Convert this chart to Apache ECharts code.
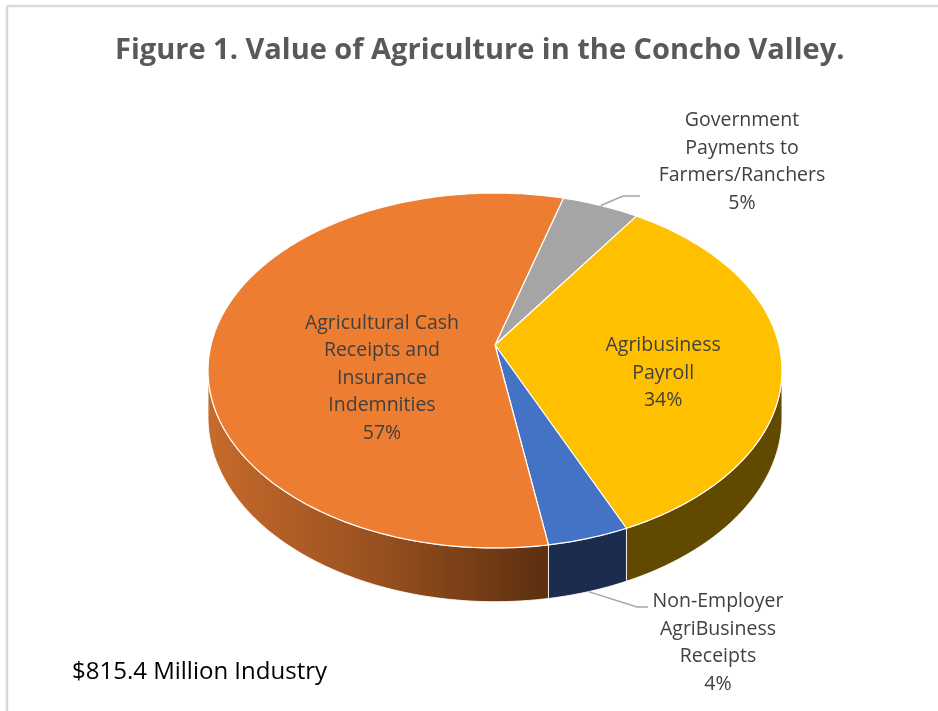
<!DOCTYPE html>
<html>
<head>
<meta charset="utf-8">
<script src="https://cdn.jsdelivr.net/npm/echarts@6/dist/echarts.min.js"></script>
<style>html,body{margin:0;padding:0;background:#fff}#c{width:938px;height:711px}</style>
</head>
<body>
<div id="c"></div>
<script>
// ---- data ----
const categories = ['Government\nPayments to\nFarmers/Ranchers', 'Agribusiness\nPayroll', 'Non-Employer\nAgriBusiness\nReceipts', 'Agricultural Cash\nReceipts and\nInsurance\nIndemnities'];
const shares = [5, 34, 4, 57];
const titleText = 'Figure 1. Value of Agriculture in the Concho Valley.';
const footText = '$815.4 Million Industry';

// ---- styles / geometry (not data) ----
const topColors = ['#A5A5A5', '#FFC000', '#4472C4', '#ED7D31'];
const sideColors = ['#5a5a5a', '#614a00', '#1c2c4e', null];
const START = 15.9;           // degrees clockwise from 12 o'clock
const CX = 495, CY = 345, A = 284, B = 173.8, C = 0.1437, H = 46;
const FONT = '"Open Sans", Lato, sans-serif';
const labelCfg = [
  {outside: true, text: [742, 162], line: [[1, 0], [623, 196], [640, 196]]},
  {outside: false, r: 0.59, dy: 19},
  {outside: true, text: [718, 643], line: [[1, H], [637, 607], [648, 607]]},
  {outside: false, r: 0.40, dy: 37}
];

function proj(deg, r, h) {
  const t = deg * Math.PI / 180;
  const u = r * Math.sin(t), v = -r * Math.cos(t);
  const w = 1 - C * v;
  return [CX + A * u / w, CY + (B * v + h) / w];
}
const total = shares.reduce((a, b) => a + b, 0);
const starts = [];
let acc = START;
shares.forEach(s => { starts.push(acc); acc += s / total * 360; });
const visL = Math.acos(-C) * 180 / Math.PI;     // right silhouette
const visR = 360 - visL;                        // left silhouette

function arc(a0, a1, r, h) {
  const pts = [];
  const n = Math.max(2, Math.ceil(Math.abs(a1 - a0)));
  for (let i = 0; i <= n; i++) pts.push(proj(a0 + (a1 - a0) * i / n, r, h));
  return pts;
}

function renderItem(params, api) {
  const i = params.dataIndex;
  const val = api.value(0);
  const a0 = starts[i], a1 = a0 + val / total * 360;
  const children = [];
  // side wall (front part only)
  const ranges = [[a0, a1], [a0 - 360, a1 - 360], [a0 + 360, a1 + 360]];
  ranges.forEach(([s, e]) => {
    const s2 = Math.max(s, visL), e2 = Math.min(e, visR);
    if (e2 > s2) {
      const pts = arc(s2, e2, 1, 0).concat(arc(e2, s2, 1, H));
      let fill = sideColors[i];
      if (!fill) {
        fill = new echarts.graphic.LinearGradient(0, 0, 1, 0, [
          {offset: 0, color: '#c66b2b'},
          {offset: 0.5, color: '#98501f'},
          {offset: 1, color: '#5c2f10'}
        ]);
      }
      children.push({type: 'polygon', z2: 1, shape: {points: pts},
        style: {fill: fill, stroke: 'rgba(255,255,255,0.85)', lineWidth: 1}});
    }
  });
  // top face
  const topPts = [[CX, CY]].concat(arc(a0, a1, 1, 0));
  children.push({type: 'polygon', z2: 5, shape: {points: topPts},
    style: {fill: topColors[i], stroke: '#ffffff', lineWidth: 1.2, lineJoin: 'round'}});
  // label
  const pct = Math.round(val / total * 100) + '%';
  const txt = categories[i] + '\n' + pct;
  const cfg = labelCfg[i];
  const mid = (a0 + a1) / 2;
  let tx, ty;
  if (cfg.outside) {
    const p0 = proj(mid, cfg.line[0][0], cfg.line[0][1]);
    children.push({type: 'polyline', z2: 8, shape: {points: [p0, cfg.line[1], cfg.line[2]]},
      style: {stroke: '#a6a6a6', lineWidth: 1.5, fill: null}});
    tx = cfg.text[0]; ty = cfg.text[1];
  } else {
    const p = proj(mid, cfg.r, 0);
    tx = p[0]; ty = p[1] + cfg.dy;
  }
  children.push({type: 'text', z2: 10, x: tx, y: ty,
    style: {text: txt, fill: '#404040', fontSize: 19.5, fontFamily: FONT,
      lineHeight: 27.5, align: 'center', verticalAlign: 'middle'}});
  return {type: 'group', children: children};
}

const chart = echarts.init(document.getElementById('c'), null, {renderer: 'canvas'});
chart.setOption({
  animation: false,
  backgroundColor: '#ffffff',
  title: {
    text: titleText, left: 110, top: 31,
    textStyle: {fontFamily: FONT, fontSize: 29, fontWeight: 'bold', color: '#595959'}
  },
  graphic: [
    {type: 'line', shape: {x1: 7, y1: 6, x2: 938, y2: 6}, style: {stroke: '#d9d9d9', lineWidth: 2.5}},
    {type: 'line', shape: {x1: 7, y1: 6, x2: 7, y2: 711}, style: {stroke: '#d9d9d9', lineWidth: 2.5}},
    {type: 'text', x: 72, y: 672, style: {text: footText, fill: '#000000', fontSize: 24,
      fontFamily: FONT, verticalAlign: 'middle'}}
  ],
  series: [{
    type: 'custom',
    coordinateSystem: 'none',
    renderItem: renderItem,
    data: shares.map((v, i) => [v, i])
  }]
});
</script>
</body>
</html>
